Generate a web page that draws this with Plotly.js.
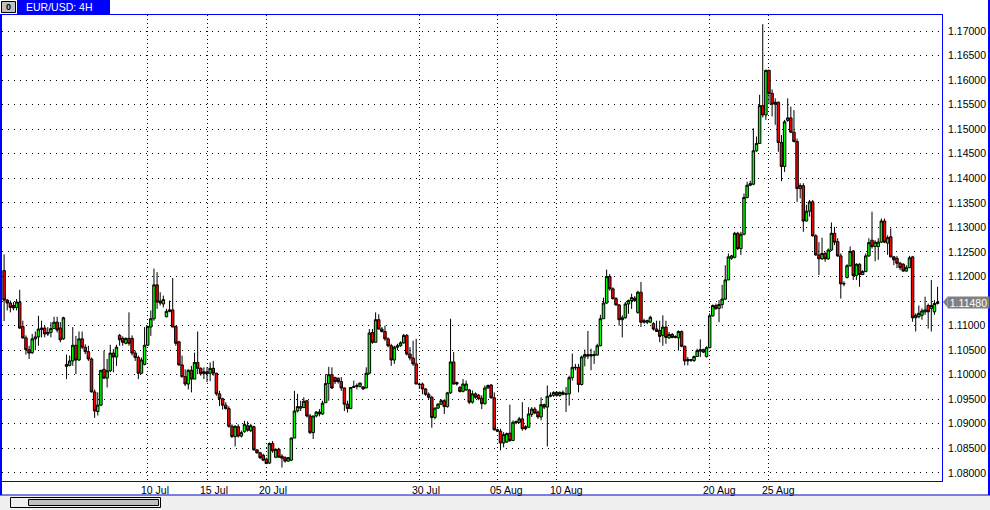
<!DOCTYPE html>
<html><head><meta charset="utf-8">
<script src="https://cdn.plot.ly/plotly-3.0.1.min.js"></script>
<style>html,body{margin:0;padding:0;background:#fff;overflow:hidden}#chart{width:990px;height:510px}</style>
</head><body><div id="chart"></div>
<script>
const symbolTitle = 'EUR/USD: 4H';
const tickBars = [46, 65, 84, 133, 158, 177, 226, 245];
const tickLabels = ['10 Jul', '15 Jul', '20 Jul', '30 Jul', '05 Aug', '10 Aug', '20 Aug', '25 Aug'];

const openP = [
1.1212,1.1152,1.1146,1.1141,1.1137,1.1148,1.1098,1.1075,1.1051,1.1045,
1.1073,1.1077,1.1092,1.1095,1.1083,1.1086,1.1094,1.1107,1.1095,1.1073,
1.1021,1.1019,1.1028,1.1060,1.1030,1.1073,1.1056,1.1047,1.1032,1.0965,
1.0925,1.0938,1.1011,1.0993,1.1008,1.1044,1.1036,1.1080,1.1074,1.1064,
1.1074,1.1074,1.1044,1.1035,1.1003,1.1021,1.1060,1.1097,1.1114,1.1183,
1.1150,1.1144,1.1118,1.1129,1.1132,1.1098,1.1067,1.1020,1.0996,1.0981,
1.1009,1.0991,1.1025,1.1013,1.1006,1.1006,1.1003,1.1013,1.1003,1.0961,
1.0951,1.0938,1.0931,1.0895,1.0874,
1.0894,1.0875,1.0884,1.0896,1.0886,1.0894,1.0847,1.0841,1.0836,1.0828,
1.0820,1.0860,1.0832,1.0848,1.0834,1.0831,1.0824,1.0826,1.0871,1.0926,
1.0932,1.0933,1.0947,1.0916,1.0882,1.0916,1.0924,1.0920,1.0943,1.0982,
1.1000,1.0994,1.0993,1.0986,1.0973,1.0940,1.0931,1.0974,1.0976,1.0976,
1.0975,1.0973,1.1003,1.1086,1.1066,1.1112,1.1093,1.1088,1.1073,1.1059,
1.1030,1.1056,1.1059,1.1065,1.1080,1.1042,1.1034,1.1022,1.0981,1.0981,
1.0971,1.0960,1.0954,1.0913,1.0932,1.0940,1.0947,1.0935,1.0963,1.1026,
1.0984,1.0974,1.0966,1.0969,1.0969,
1.0944,1.0961,1.0958,1.0952,1.0941,1.0973,1.0979,1.0953,1.0888,1.0885,
1.0861,1.0863,1.0881,1.0866,1.0902,1.0903,1.0910,1.0894,1.0893,1.0919,
1.0930,1.0924,1.0914,1.0939,1.0934,1.0956,1.0958,1.0964,1.0958,1.0964,
1.0960,1.0961,1.0994,1.1014,1.1015,1.0980,1.1036,1.1041,1.1041,1.1039,
1.1040,1.1059,1.1114,1.1146,1.1200,1.1175,1.1155,1.1142,1.1112,1.1116,
1.1144,1.1151,1.1156,1.1127,1.1168,1.1110,1.1107,1.1107,1.1104,1.1093,
1.1090,1.1080,1.1097,1.1075,1.1082,1.1078,1.1075,1.1088,1.1058,1.1031,
1.1029,1.1029,1.1037,1.1048,1.1051,1.1037,1.1055,
1.1120,1.1141,1.1135,1.1143,1.1154,1.1193,1.1237,1.1239,1.1288,1.1257,
1.1286,1.1361,1.1386,1.1388,1.1456,1.1471,1.1548,1.1529,1.1620,1.1573,
1.1555,1.1555,1.1473,1.1424,1.1518,1.1523,1.1494,1.1475,1.1379,1.1385,
1.1313,1.1333,1.1352,1.1283,1.1244,1.1236,1.1247,1.1236,1.1254,1.1288,
1.1271,1.1242,1.1186,1.1198,1.1222,1.1252,1.1202,1.1225,1.1204,1.1210,
1.1242,1.1274,1.1261,1.1261,1.1270,1.1313,1.1268,1.1281,1.1240,1.1237,
1.1227,1.1225,1.1211,1.1218,1.1240,1.1116,1.1118,1.1121,1.1128,1.1141,
1.1135,1.1128,1.1145];

const highP = [
1.1245,1.1154,1.1151,1.1148,1.1154,1.1173,1.1110,1.1080,1.1059,1.1083,
1.1088,1.1120,1.1110,1.1100,1.1097,1.1107,1.1118,1.1118,1.1107,1.1118,
1.1041,1.1039,1.1097,1.1079,1.1088,1.1088,1.1062,1.1059,1.1035,1.0970,
1.0964,1.1009,1.1049,1.1032,1.1061,1.1052,1.1061,1.1083,1.1078,1.1076,
1.1127,1.1080,1.1049,1.1039,1.1035,1.1097,1.1100,1.1131,1.1216,1.1209,
1.1168,1.1161,1.1134,1.1151,1.1197,1.1100,1.1069,1.1039,1.1011,1.1011,
1.1018,1.1045,1.1088,1.1015,1.1015,1.1015,1.1025,1.1028,1.1004,1.0967,
1.0953,1.0944,1.0936,1.0899,1.0897,
1.0899,1.0886,1.0906,1.0905,1.0900,1.0896,1.0848,1.0843,1.0839,1.0831,
1.0862,1.0865,1.0850,1.0851,1.0838,1.0834,1.0832,1.0872,1.0967,1.0961,
1.0947,1.0954,1.0948,1.0920,1.0916,1.0926,1.0930,1.0947,1.1001,1.1016,
1.1015,1.0996,1.0994,1.0995,1.0974,1.0947,1.0975,1.0988,1.0982,1.0984,
1.0977,1.1015,1.1093,1.1093,1.1127,1.1123,1.1097,1.1100,1.1076,1.1063,
1.1059,1.1063,1.1068,1.1083,1.1083,1.1056,1.1069,1.1073,1.0984,1.0984,
1.0973,1.0964,1.0957,1.0933,1.0942,1.0950,1.0950,1.0965,1.1114,1.1046,
1.0986,1.0977,1.0991,1.0988,1.0971,
1.0968,1.0964,1.0961,1.0958,1.0978,1.0980,1.0981,1.0964,1.0890,1.0890,
1.0883,1.0882,1.0939,1.0907,1.0906,1.0914,1.0944,1.0897,1.0934,1.0934,
1.0934,1.0927,1.0954,1.0941,1.0978,1.0964,1.0966,1.0966,1.0966,1.0968,
1.0975,1.0998,1.1043,1.1022,1.1022,1.1039,1.1051,1.1089,1.1053,1.1049,
1.1063,1.1122,1.1157,1.1214,1.1205,1.1178,1.1158,1.1144,1.1121,1.1148,
1.1153,1.1165,1.1160,1.1171,1.1189,1.1114,1.1112,1.1120,1.1107,1.1110,
1.1110,1.1121,1.1110,1.1087,1.1085,1.1080,1.1090,1.1090,1.1059,1.1036,
1.1032,1.1039,1.1053,1.1072,1.1053,1.1058,1.1125,
1.1143,1.1145,1.1152,1.1183,1.1223,1.1247,1.1244,1.1291,1.1291,1.1291,
1.1369,1.1393,1.1395,1.1502,1.1485,1.1570,1.1714,1.1621,1.1621,1.1581,
1.1563,1.1556,1.1488,1.1519,1.1563,1.1546,1.1539,1.1481,1.1390,1.1390,
1.1346,1.1356,1.1356,1.1286,1.1270,1.1279,1.1250,1.1257,1.1310,1.1301,
1.1278,1.1247,1.1190,1.1225,1.1261,1.1254,1.1227,1.1227,1.1213,1.1247,
1.1278,1.1332,1.1274,1.1278,1.1318,1.1318,1.1284,1.1298,1.1242,1.1242,
1.1230,1.1227,1.1223,1.1242,1.1242,1.1125,1.1141,1.1135,1.1159,1.1145,
1.1193,1.1152,1.1179];

const lowP = [
1.1109,1.1131,1.1127,1.1131,1.1131,1.1093,1.1073,1.1041,1.1032,1.1042,
1.1050,1.1059,1.1076,1.1076,1.1079,1.1076,1.1093,1.1086,1.1066,1.1071,
1.0991,1.1017,1.1018,1.1001,1.1028,1.1052,1.1042,1.1028,1.0964,1.0912,
1.0917,1.0936,1.0991,1.0974,1.1005,1.1005,1.1018,1.1059,1.1059,1.1062,
1.1059,1.1039,1.1028,1.0991,1.1001,1.1019,1.1059,1.1079,1.1110,1.1134,
1.1141,1.1137,1.1117,1.1127,1.1097,1.1059,1.1018,1.0994,1.0977,1.0970,
1.0964,1.0991,1.1001,1.0998,1.0991,1.0985,1.0987,1.0998,1.0957,1.0936,
1.0929,1.0929,1.0892,1.0871,1.0854,
1.0872,1.0872,1.0882,1.0884,1.0883,1.0845,1.0839,1.0828,1.0824,1.0818,
1.0818,1.0841,1.0830,1.0831,1.0811,1.0821,1.0823,1.0824,1.0871,1.0923,
1.0926,1.0932,1.0913,1.0879,1.0869,1.0913,1.0915,1.0918,1.0943,1.0947,
1.0971,1.0981,1.0982,1.0967,1.0926,1.0923,1.0930,1.0973,1.0970,1.0974,
1.0969,1.0973,1.1001,1.1063,1.1065,1.1092,1.1086,1.1069,1.1056,1.1018,
1.1022,1.1050,1.1057,1.1063,1.1039,1.1029,1.1018,1.0981,1.0971,1.0960,
1.0957,1.0950,1.0892,1.0909,1.0930,1.0938,1.0920,1.0933,1.0961,1.0980,
1.0978,1.0964,1.0964,1.0967,1.0940,
1.0941,1.0951,1.0948,1.0930,1.0939,1.0971,1.0951,1.0886,1.0883,1.0846,
1.0852,1.0861,1.0863,1.0865,1.0899,1.0901,1.0886,1.0887,1.0892,1.0914,
1.0920,1.0910,1.0907,1.0930,1.0854,1.0954,1.0955,1.0955,1.0955,1.0958,
1.0924,1.0937,1.0988,1.1009,1.0964,1.0978,1.1017,1.1032,1.1009,1.1022,
1.1039,1.1058,1.1114,1.1144,1.1171,1.1153,1.1141,1.1100,1.1076,1.1114,
1.1124,1.1134,1.1148,1.1124,1.1097,1.1104,1.1103,1.1105,1.1090,1.1087,
1.1066,1.1059,1.1063,1.1073,1.1074,1.1074,1.1049,1.1056,1.1019,1.1019,
1.1026,1.1026,1.1036,1.1036,1.1044,1.1035,1.1054,
1.1118,1.1132,1.1107,1.1135,1.1152,1.1193,1.1234,1.1237,1.1254,1.1244,
1.1284,1.1359,1.1384,1.1386,1.1454,1.1471,1.1524,1.1519,1.1551,1.1526,
1.1509,1.1454,1.1394,1.1413,1.1515,1.1492,1.1473,1.1352,1.1359,1.1291,
1.1312,1.1322,1.1281,1.1242,1.1203,1.1234,1.1230,1.1234,1.1252,1.1264,
1.1240,1.1155,1.1180,1.1196,1.1220,1.1193,1.1193,1.1179,1.1203,1.1209,
1.1240,1.1257,1.1231,1.1234,1.1268,1.1268,1.1244,1.1239,1.1223,1.1217,
1.1213,1.1210,1.1210,1.1217,1.1108,1.1088,1.1115,1.1112,1.1122,1.1094,
1.1088,1.1122,1.1143];

const closeP = [
1.1152,1.1146,1.1137,1.1136,1.1148,1.1095,1.1075,1.1051,1.1044,1.1073,
1.1077,1.1093,1.1095,1.1083,1.1086,1.1094,1.1107,1.1091,1.1071,1.1116,
1.1017,1.1028,1.1060,1.1030,1.1073,1.1056,1.1047,1.1032,1.0965,1.0926,
1.0938,1.1009,1.0993,1.1008,1.1044,1.1036,1.1056,1.1071,1.1066,1.1074,
1.1064,1.1044,1.1035,1.1003,1.1030,1.1060,1.1098,1.1114,1.1183,1.1148,
1.1146,1.1153,1.1129,1.1132,1.1097,1.1064,1.1020,1.0996,1.0981,1.1009,
1.0991,1.1025,1.1013,1.1002,1.1002,1.1002,1.1013,1.1003,1.0961,1.0951,
1.0938,1.0931,1.0895,1.0874,1.0895,
1.0875,1.0882,1.0899,1.0887,1.0896,1.0847,1.0841,1.0831,1.0826,1.0819,
1.0860,1.0845,1.0848,1.0832,1.0830,1.0824,1.0831,1.0871,1.0926,1.0935,
1.0935,1.0946,1.0916,1.0882,1.0916,1.0924,1.0920,1.0942,1.0982,1.1000,
1.0973,1.0986,1.0986,1.0973,1.0940,1.0931,1.0974,1.0976,1.0978,1.0983,
1.0971,1.1003,1.1085,1.1066,1.1112,1.1093,1.1088,1.1073,1.1059,1.1030,
1.1056,1.1059,1.1065,1.1080,1.1042,1.1034,1.1022,1.0981,1.0980,1.0971,
1.0960,1.0954,1.0913,1.0932,1.0940,1.0947,1.0935,1.0963,1.1026,1.0981,
1.0981,1.0966,1.0981,1.0981,1.0944,
1.0961,1.0954,1.0951,1.0941,1.0973,1.0978,1.0953,1.0888,1.0885,1.0861,
1.0878,1.0880,1.0866,1.0903,1.0905,1.0910,1.0890,1.0890,1.0920,1.0930,
1.0922,1.0914,1.0939,1.0934,1.0956,1.0958,1.0964,1.0958,1.0964,1.0960,
1.0961,1.0994,1.1015,1.1015,1.0980,1.1036,1.1041,1.1038,1.1038,1.1041,
1.1059,1.1114,1.1146,1.1200,1.1175,1.1155,1.1142,1.1112,1.1116,1.1144,
1.1151,1.1157,1.1151,1.1168,1.1107,1.1107,1.1110,1.1117,1.1093,1.1088,
1.1078,1.1097,1.1076,1.1082,1.1076,1.1076,1.1088,1.1058,1.1028,1.1028,
1.1031,1.1037,1.1049,1.1051,1.1046,1.1055,1.1120,
1.1141,1.1135,1.1143,1.1154,1.1193,1.1240,1.1242,1.1288,1.1257,1.1286,
1.1361,1.1386,1.1389,1.1456,1.1471,1.1548,1.1529,1.1620,1.1573,1.1551,
1.1551,1.1473,1.1424,1.1515,1.1523,1.1494,1.1475,1.1379,1.1385,1.1313,
1.1333,1.1352,1.1283,1.1244,1.1236,1.1247,1.1236,1.1254,1.1288,1.1270,
1.1242,1.1185,1.1185,1.1222,1.1251,1.1202,1.1225,1.1204,1.1210,1.1242,
1.1269,1.1261,1.1270,1.1270,1.1313,1.1270,1.1279,1.1240,1.1234,1.1227,
1.1218,1.1211,1.1218,1.1238,1.1116,1.1121,1.1125,1.1130,1.1132,1.1128,
1.1141,1.1145,1.1148];

const barIdx = closeP.map((_, i) => i);

// ---- geometry helpers (pixels -> paper) ----
const W = 990, H = 510, ML = 2, MR = 48, MT = 15, MB = 29;
const PW = W - ML - MR, PH = H - MT - MB;
const X = p => (p - ML) / PW;
const Y = p => (H - MB - p) / PH;
const BLUE = '#0000ff';
const FONT = '"Liberation Sans", Arial, sans-serif';
const yRange = [1.07835, 1.17326];
const xRange = [-0.673, 300.42];
const pxPrice = (yRange[1] - yRange[0]) / PH;

const trace = {
  type: 'candlestick',
  x: barIdx, open: openP, high: highP, low: lowP, close: closeP,
  increasing: {line: {color: '#000000', width: 1}, fillcolor: '#00ff00'},
  decreasing: {line: {color: '#000000', width: 1}, fillcolor: '#ff0000'},
  whiskerwidth: 0,
  hoverinfo: 'skip',
  showlegend: false
};

const lastClose = closeP[closeP.length - 1];

const annotations = tickLabels.map((t, i) => ({
  x: tickBars[i], xref: 'x', xanchor: 'left', xshift: -9,
  y: 0, yref: 'paper', yanchor: 'top', yshift: -1,
  text: t, showarrow: false, font: {family: FONT, size: 10.5, color: '#000'}
}));
annotations.push({
  x: X(24), xref: 'paper', xanchor: 'left', y: Y(7), yref: 'paper', yanchor: 'middle',
  text: symbolTitle, showarrow: false, font: {family: FONT, size: 10.5, color: '#ffffff'}
});
annotations.push({
  x: X(8.5), xref: 'paper', xanchor: 'center', y: Y(7), yref: 'paper', yanchor: 'middle',
  text: '<b>0</b>', showarrow: false, font: {family: FONT, size: 9, color: '#000'}
});
annotations.push({
  x: X(947), xref: 'paper', xanchor: 'left', y: lastClose, yref: 'y', yanchor: 'middle',
  text: lastClose.toFixed(5), showarrow: false, bgcolor: '#808080', borderpad: 0,
  width: 41, height: 11, align: 'center',
  font: {family: FONT, size: 10.5, color: '#ffffff'}
});

const shapes = [
  {type: 'rect', xref: 'paper', yref: 'paper', x0: X(17), x1: X(110), y0: Y(14), y1: Y(0), fillcolor: BLUE, line: {width: 0}, layer: 'above'},
  {type: 'rect', xref: 'paper', yref: 'paper', x0: X(1.5), x1: X(15.5), y0: Y(12.5), y1: Y(1.5), fillcolor: '#c0c0c0', line: {color: '#000', width: 1}, layer: 'above'},
  {type: 'line', xref: 'paper', yref: 'paper', x0: X(1), x1: X(1), y0: Y(14), y1: Y(495), line: {color: BLUE, width: 2}, layer: 'above'},
  {type: 'line', xref: 'paper', yref: 'paper', x0: X(989), x1: X(989), y0: Y(0), y1: Y(495), line: {color: BLUE, width: 2}, layer: 'above'},
  {type: 'rect', xref: 'paper', yref: 'paper', x0: X(0), x1: X(990), y0: Y(510), y1: Y(495.5), fillcolor: '#f0f0f0', line: {width: 0}, layer: 'above'},
  {type: 'line', xref: 'paper', yref: 'paper', x0: X(0), x1: X(990), y0: Y(495), y1: Y(495), line: {color: '#0000c0', width: 1}, layer: 'above'},
  {type: 'rect', xref: 'paper', yref: 'paper', x0: X(10.5), x1: X(160.5), y0: Y(507.5), y1: Y(497.5), fillcolor: '#f0f0f0', line: {color: '#000', width: 1}, layer: 'above'},
  {type: 'rect', xref: 'paper', yref: 'paper', x0: X(28.5), x1: X(158.5), y0: Y(505.5), y1: Y(499.5), fillcolor: '#c0c0c0', line: {color: '#000', width: 1}, layer: 'above'},
  {type: 'path', xref: 'paper', yref: 'y',
   path: `M ${X(943)},${lastClose} L ${X(947.5)},${lastClose + 5.5 * pxPrice} L ${X(947.5)},${lastClose - 5.5 * pxPrice} Z`,
   fillcolor: '#808080', line: {width: 0}, layer: 'above'}
];

const layout = {
  width: W, height: H,
  margin: {l: ML, r: MR, t: MT, b: MB, pad: 0},
  paper_bgcolor: '#ffffff', plot_bgcolor: '#ffffff',
  showlegend: false,
  boxgap: 0.12, boxgroupgap: 0.1,
  font: {family: FONT, size: 10.5, color: '#000'},
  xaxis: {
    range: xRange, tickmode: 'array', tickvals: tickBars, ticktext: tickLabels,
    showticklabels: false, ticks: '',
    showgrid: true, gridcolor: '#000000', gridwidth: 1, griddash: '1px,3px',
    zeroline: false, showline: true, mirror: true, linecolor: BLUE, linewidth: 1,
    rangeslider: {visible: false}, fixedrange: true
  },
  yaxis: {
    range: yRange, side: 'right', tickmode: 'linear', tick0: 1.08, dtick: 0.005,
    tickformat: '.5f', ticks: '', ticklabelstandoff: 3,
    tickfont: {family: FONT, size: 10.5, color: '#000'},
    showgrid: true, gridcolor: '#000000', gridwidth: 1, griddash: '1px,5px',
    zeroline: false, showline: true, mirror: true, linecolor: BLUE, linewidth: 1,
    fixedrange: true
  },
  annotations: annotations,
  shapes: shapes
};

Plotly.newPlot('chart', [trace], layout, {staticPlot: true, displayModeBar: false});
</script>
</body></html>
